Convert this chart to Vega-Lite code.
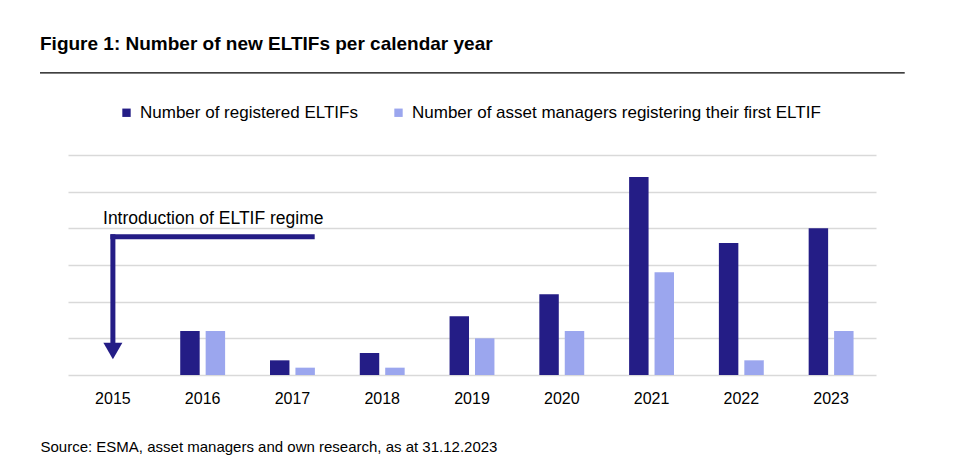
{
  "$schema": "https://vega.github.io/schema/vega-lite/v6.json",
  "width": 808,
  "height": 220,
  "autosize": "none",
  "padding": {"left": 68, "top": 155, "right": 90, "bottom": 88},
  "background": "white",
  "title": {
    "text": "Figure 1: Number of new ELTIFs per calendar year",
    "anchor": "start",
    "frame": "group",
    "dx": -28,
    "offset": 3,
    "baseline": "alphabetic",
    "font": "Liberation Sans",
    "fontSize": 19,
    "fontWeight": "bold",
    "color": "#000000"
  },
  "config": {
    "view": {"stroke": null},
    "font": "Liberation Sans",
    "axisY": {"tickCount": 7, "labels": false, "ticks": false, "domain": false, "title": null, "grid": true, "gridColor": "#d9d9d9", "gridWidth": 1.5}
  },
  "layer": [
    {
      "data": {
        "values": [
          {"year": "2015", "series": "Number of registered ELTIFs", "value": 0},
          {"year": "2015", "series": "Number of asset managers registering their first ELTIF", "value": 0},
          {"year": "2016", "series": "Number of registered ELTIFs", "value": 6},
          {"year": "2016", "series": "Number of asset managers registering their first ELTIF", "value": 6},
          {"year": "2017", "series": "Number of registered ELTIFs", "value": 2},
          {"year": "2017", "series": "Number of asset managers registering their first ELTIF", "value": 1},
          {"year": "2018", "series": "Number of registered ELTIFs", "value": 3},
          {"year": "2018", "series": "Number of asset managers registering their first ELTIF", "value": 1},
          {"year": "2019", "series": "Number of registered ELTIFs", "value": 8},
          {"year": "2019", "series": "Number of asset managers registering their first ELTIF", "value": 5},
          {"year": "2020", "series": "Number of registered ELTIFs", "value": 11},
          {"year": "2020", "series": "Number of asset managers registering their first ELTIF", "value": 6},
          {"year": "2021", "series": "Number of registered ELTIFs", "value": 27},
          {"year": "2021", "series": "Number of asset managers registering their first ELTIF", "value": 14},
          {"year": "2022", "series": "Number of registered ELTIFs", "value": 18},
          {"year": "2022", "series": "Number of asset managers registering their first ELTIF", "value": 2},
          {"year": "2023", "series": "Number of registered ELTIFs", "value": 20},
          {"year": "2023", "series": "Number of asset managers registering their first ELTIF", "value": 6}
        ]
      },
      "mark": {"type": "bar"},
      "encoding": {
        "x": {
          "field": "year",
          "type": "nominal",
          "scale": {"paddingInner": 0.5, "paddingOuter": 0.25},
          "axis": {
            "title": "Source: ESMA, asset managers and own research, as at 31.12.2023",
            "titleAnchor": "start",
            "titleAlign": "left",
            "titleX": -28,
            "titleY": 76,
            "titleBaseline": "alphabetic",
            "titleFont": "Liberation Sans",
            "titleFontSize": 15,
            "titleFontWeight": "normal",
            "titleColor": "#000000",
            "labelAngle": 0,
            "labelFont": "Liberation Sans",
            "labelFontSize": 16,
            "labelColor": "#000000",
            "labelPadding": 15,
            "domain": false,
            "ticks": false
          }
        },
        "xOffset": {
          "field": "series",
          "type": "nominal",
          "sort": ["Number of registered ELTIFs", "Number of asset managers registering their first ELTIF"],
          "scale": {"paddingInner": 0.235}
        },
        "y": {
          "field": "value",
          "type": "quantitative",
          "scale": {"domain": [0, 30], "nice": false}
        },
        "color": {
          "field": "series",
          "type": "nominal",
          "sort": ["Number of registered ELTIFs", "Number of asset managers registering their first ELTIF"],
          "scale": {
            "domain": ["Number of registered ELTIFs", "Number of asset managers registering their first ELTIF"],
            "range": ["#241d86", "#9ba6ee"]
          },
          "legend": {
            "title": null,
            "orient": "none",
            "direction": "horizontal",
            "legendX": 50,
            "legendY": -51,
            "symbolType": "square",
            "symbolSize": 70,
            "symbolStrokeWidth": 0,
            "labelFont": "Liberation Sans",
            "labelFontSize": 17,
            "labelColor": "#000000",
            "labelOffset": 5,
            "labelLimit": 600,
            "columnPadding": 32
          }
        }
      }
    },
    {
      "layer": [
        {
          "data": {
            "values": [
              {"ax": 0, "ax2": 2.22, "ay": 18.85, "ay2": 18.85},
              {"ax": 0, "ax2": 0, "ay": 18.85, "ay2": 4.6}
            ]
          },
          "mark": {"type": "rule", "color": "#241d86", "strokeWidth": 5, "strokeCap": "square"},
          "encoding": {
            "x": {"field": "ax", "type": "quantitative", "scale": {"domain": [-0.5, 8.5], "nice": false, "zero": false}, "axis": null},
            "x2": {"field": "ax2"},
            "y": {"field": "ay", "type": "quantitative", "scale": {"domain": [0, 30], "nice": false}},
            "y2": {"field": "ay2"}
          }
        },
        {
          "data": {"values": [{"ax": 0, "ay": 3.27}]},
          "mark": {"type": "point", "shape": "triangle-down", "size": 361, "filled": true, "color": "#241d86", "opacity": 1},
          "encoding": {
            "x": {"field": "ax", "type": "quantitative"},
            "y": {"field": "ay", "type": "quantitative"}
          }
        },
        {
          "data": {"values": [{"ax": -0.11, "ay": 20.6, "label": "Introduction of ELTIF regime"}]},
          "mark": {"type": "text", "align": "left", "baseline": "alphabetic", "font": "Liberation Sans", "fontSize": 17.5, "color": "#000000"},
          "encoding": {
            "x": {"field": "ax", "type": "quantitative"},
            "y": {"field": "ay", "type": "quantitative"},
            "text": {"field": "label"}
          }
        },
        {
          "data": {"values": [{"ax": -0.812, "ax2": 8.82, "ay": 41.2}]},
          "mark": {"type": "rule", "color": "#000000", "strokeWidth": 1.2},
          "encoding": {
            "x": {"field": "ax", "type": "quantitative"},
            "x2": {"field": "ax2"},
            "y": {"field": "ay", "type": "quantitative"}
          }
        }
      ]
    }
  ],
  "resolve": {"scale": {"x": "independent"}, "axis": {"x": "independent"}}
}
